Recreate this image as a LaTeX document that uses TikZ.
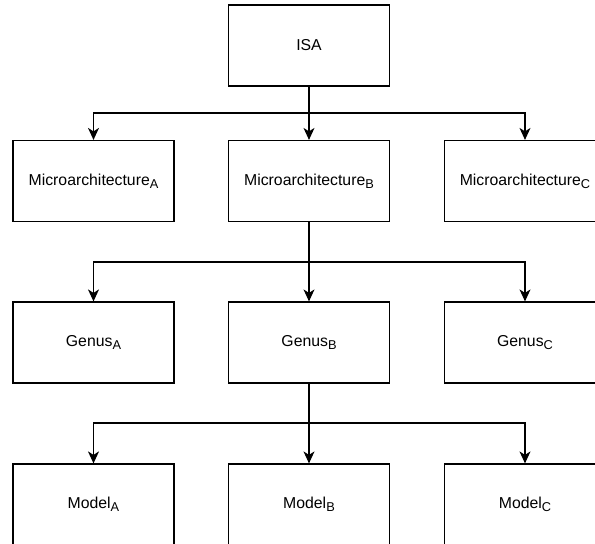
\documentclass[tikz,border=0pt]{standalone}
\usepackage{fontspec}
\setmainfont{Liberation Sans}
\usetikzlibrary{arrows.meta}
% lowered, slightly smaller letter after a name
\newcommand{\lowidx}[1]{\raisebox{-0.35ex}{\fontsize{12.8}{14}\selectfont #1}}
\begin{document}
\begin{tikzpicture}[x=1pt,y=-1pt,
  box/.style={draw=black,line width=1.2pt,minimum width=161pt,minimum height=81pt,
    inner sep=0pt,font=\fontsize{15.8}{18}\selectfont},
  link/.style={draw=black,line width=1.2pt,-{Stealth[length=12pt,width=11pt,inset=3.5pt]}}]
\useasboundingbox (0,0) rectangle (595,544);
\clip (0,0) rectangle (595,544);
% levels of the hierarchy
\node[box] (isa) at (309,45.5) {ISA};
\node[box] (ma) at (93.5,181) {Microarchitecture\lowidx{A}};
\node[box] (mb) at (309,181) {Microarchitecture\lowidx{B}};
\node[box] (mc) at (525,181) {Microarchitecture\lowidx{C}};
\node[box] (ga) at (93.5,342.5) {Genus\lowidx{A}};
\node[box] (gb) at (309,342.5) {Genus\lowidx{B}};
\node[box] (gc) at (525,342.5) {Genus\lowidx{C}};
\node[box] (oa) at (93.5,504.5) {Model\lowidx{A}};
\node[box] (ob) at (309,504.5) {Model\lowidx{B}};
\node[box] (oc) at (525,504.5) {Model\lowidx{C}};
% horizontal rails of the branching connectors
\coordinate (r1) at (0,113);
\coordinate (r2) at (0,262);
\coordinate (r3) at (0,423);
% ISA -> microarchitectures
\draw[link] (isa.south) -- (isa.south |- r1) -| (ma.north);
\draw[link] (isa.south) -- (mb.north);
\draw[link] (isa.south) -- (isa.south |- r1) -| (mc.north);
% microarchitecture B -> genera
\draw[link] (mb.south) -- (mb.south |- r2) -| (ga.north);
\draw[link] (mb.south) -- (gb.north);
\draw[link] (mb.south) -- (mb.south |- r2) -| (gc.north);
% genus B -> models
\draw[link] (gb.south) -- (gb.south |- r3) -| (oa.north);
\draw[link] (gb.south) -- (ob.north);
\draw[link] (gb.south) -- (gb.south |- r3) -| (oc.north);
\end{tikzpicture}
\end{document}
